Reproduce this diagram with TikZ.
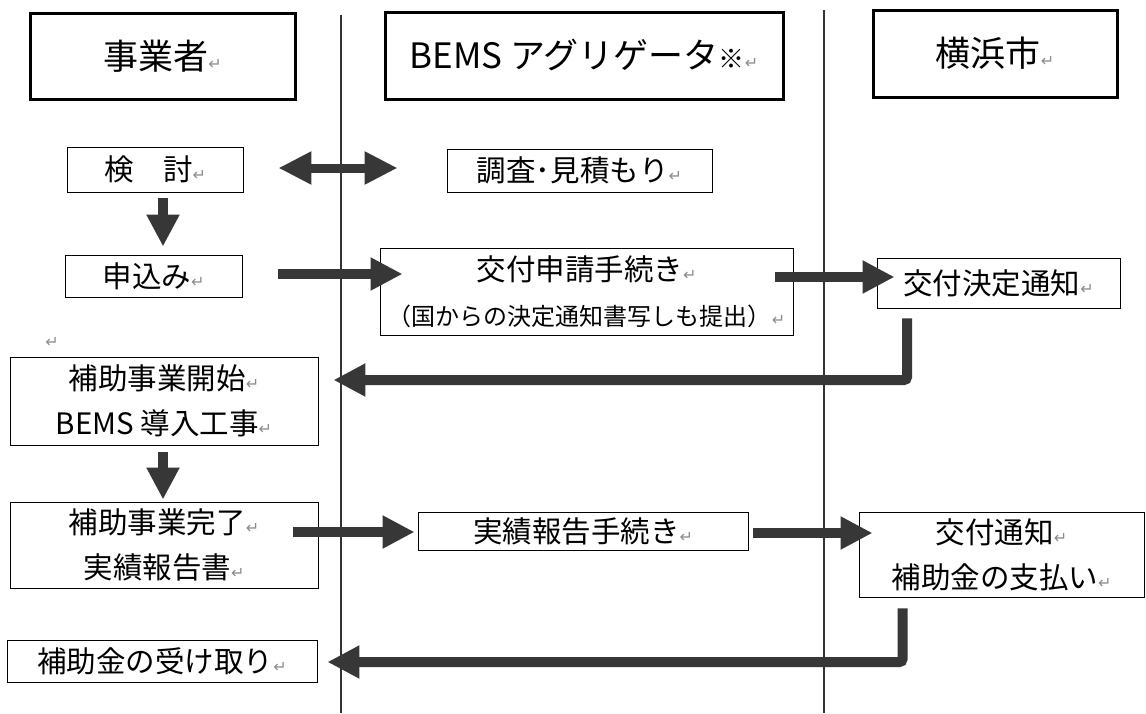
\documentclass[tikz,border=0pt]{standalone}
\usepackage{fontspec}
\setmainfont{Noto Sans CJK JP}
\newfontfamily\retfont{DejaVu Sans}
\usetikzlibrary{arrows.meta,calc}
\definecolor{arr}{RGB}{55,55,55}
\definecolor{retc}{RGB}{140,140,140}
\newcommand\ret{{\retfont\color{retc}\fontsize{16pt}{16pt}\selectfont ↵}}
\begin{document}
\begin{tikzpicture}[x=1pt,y=-1pt,
  hbox/.style={draw, line width=3pt, inner sep=0pt, font=\fontsize{35pt}{35pt}\selectfont},
  bbox/.style={draw, line width=0.9pt, inner sep=0pt, align=center, font=\fontsize{29.5pt}{45pt}\selectfont},
  flow/.style={draw=arr, line width=10pt, -{Triangle[width=31pt,length=32pt]}},
  dflow/.style={draw=arr, line width=9pt, {Triangle[width=31pt,length=33pt]}-{Triangle[width=31pt,length=33pt]}},
  lane/.style={draw=black!80, line width=1.2pt}]
\useasboundingbox (0,0) rectangle (1146,713);
% lanes
\draw[lane] (341,15) -- (341,713);
\draw[lane] (824,10) -- (824,713);
% headers
\node[hbox, minimum width=265pt, minimum height=86pt] (h1) at (162.5,56) {事業者\ret};
\node[hbox, minimum width=398pt, minimum height=87pt] (h2) at (584,55.5) {BEMS アグリゲータ{\fontsize{26pt}{26pt}\selectfont ※}\ret};
\node[hbox, minimum width=244pt, minimum height=87pt] (h3) at (995,53.5) {横浜市\ret};
% boxes
\node[bbox, minimum width=176pt, minimum height=45pt] (kento) at (155,169.5) {検　討\ret};
\node[bbox, minimum width=265pt, minimum height=43pt] (chousa) at (579.5,170.5) {調査･見積もり\ret};
\node[bbox, minimum width=177pt, minimum height=42pt] (moushikomi) at (153.5,276) {申込み\ret};
\node[bbox, minimum width=413pt, minimum height=87pt] (shinsei) at (586.5,291.5) {交付申請手続き\ret\\{\fontsize{24pt}{24pt}\selectfont （国からの決定通知書写しも提出）\ret}};
\node[bbox, minimum width=243pt, minimum height=50pt] (kettei) at (998.5,283) {交付決定通知\ret};
\node (r0) at (52,342) {\ret};
\node[bbox, minimum width=308pt, minimum height=88pt] (kaishi) at (164,401) {補助事業開始\ret\\BEMS 導入工事\ret};
\node[bbox, minimum width=308pt, minimum height=86pt] (kanryo) at (164,545) {補助事業完了\ret\\実績報告書\ret};
\node[bbox, minimum width=330pt, minimum height=38pt] (jisseki) at (583,531) {実績報告手続き\ret};
\node[bbox, minimum width=285pt, minimum height=85pt] (tsuchi) at (1001.5,554.5) {交付通知\ret\\補助金の支払い\ret};
\node[bbox, minimum width=310pt, minimum height=42pt] (uketori) at (162,661) {補助金の受け取り\ret};
% arrows
\draw[dflow] ($(kento.east)+(35,-1.5)$) -- ($(chousa.west)+(-49,-2.5)$);
\draw[flow] ($(kento.south)+(8,6)$) -- ($(moushikomi.north)+(9.5,-8)$);
\draw[flow] ($(moushikomi.east)+(36,-2)$) -- ($(shinsei.west)+(23,-17.5)$);
\draw[flow] ($(shinsei.east)+(-18,-14.5)$) -- ($(kettei.west)+(18,-6)$);
\draw[flow, rounded corners=3pt] ($(kettei.south)+(-91.5,10)$) |- ($(kaishi.east)+(15,-21)$);
\draw[flow] ($(kaishi.south)+(-1,7)$) -- ($(kanryo.north)+(-1,-2)$);
\draw[flow] ($(kanryo.east)+(-25,-13)$) -- ($(jisseki.west)+(-3,1)$);
\draw[flow] ($(jisseki.east)+(5,2)$) -- ($(tsuchi.west)+(14,-21.5)$);
\draw[flow, rounded corners=3pt] ($(tsuchi.south)+(-99,11)$) |- ($(uketori.east)+(10,1)$);
\end{tikzpicture}
\end{document}
